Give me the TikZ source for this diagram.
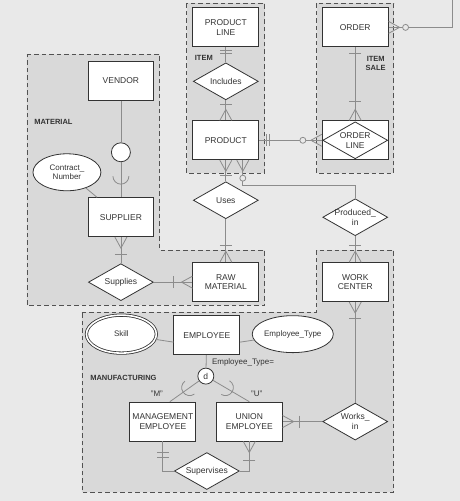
\documentclass[tikz,border=0pt]{standalone}
\usepackage{fontspec}
\setmainfont{Liberation Sans}
\usetikzlibrary{shapes.geometric,calc}
\definecolor{bgc}{HTML}{E9E9E9}
\definecolor{zonec}{HTML}{D9D9D9}
\definecolor{linec}{HTML}{8C8C8C}
\definecolor{inkc}{HTML}{333333}
\tikzset{
 conn/.style={draw=linec, line width=0.8pt},
 zone/.style={draw=inkc!85, fill=zonec, dash pattern=on 4.5pt off 3pt, line width=0.8pt},
 entbox/.style={rectangle, draw=inkc, fill=white, line width=0.8pt, minimum width=66pt, minimum height=39pt, align=center, font=\fontsize{8.5}{9.5}\selectfont, text=inkc, inner sep=1pt},
 reldia/.style={diamond, draw=inkc, fill=white, line width=0.8pt, minimum width=65pt, minimum height=37pt, inner sep=0pt},
 reltxt/.style={align=center, font=\fontsize{8.5}{9.5}\selectfont, text=inkc, inner sep=0pt},
 attr/.style={ellipse, draw=inkc, fill=white, line width=0.8pt, minimum width=68pt, minimum height=37pt, inner sep=0pt, align=center, font=\fontsize{8}{9}\selectfont, text=inkc},
 subcirc/.style={circle, draw=inkc, fill=white, line width=0.8pt, inner sep=0pt, font=\fontsize{8.5}{9.5}\selectfont, text=inkc},
 zonelbl/.style={font=\bfseries\fontsize{7.5}{9}\selectfont, text=inkc, align=center, inner sep=0pt},
 smalltxt/.style={font=\fontsize{8}{9}\selectfont, text=inkc, inner sep=0pt},
}
\newcommand{\entity}[3]{%
 \node[entbox] (#1) at (#2) {#3};%
}
\newcommand{\relship}[3]{%
 \node[reldia] (#1) at (#2) {};%
 \node[reltxt] (#1t) at (#1) {#3};%
}
% line ends: crow's foot, bar, ring, subset cup
\newcommand{\crowft}[2]{\draw[conn,shift={(#1)},rotate=#2] (0,6) -- (11,0) -- (0,-6);}
\newcommand{\tickmk}[3]{\draw[conn,shift={(#1)},rotate=#2] (#3,-6) -- (#3,6);}
\newcommand{\ringmk}[3]{\draw[conn,fill=bgc,shift={(#1)},rotate=#2] (#3,0) circle (3);}
\newcommand{\cupmk}[2]{\draw[conn,shift={(#1)},rotate=#2] (0,8) arc (90:270:8);}
\begin{document}
\begin{tikzpicture}[x=1pt,y=-1pt]
   \fill[bgc] (0,0) rectangle (460,501);
   \draw[zone] (27,54) -- (160,54) -- (160,250) -- (265,250) -- (265,305) -- (27,305) -- cycle;
   \draw[zone] (187,3) rectangle (265,173);
   \draw[zone] (317,3) rectangle (394,173);
   \draw[zone] (82,312) -- (317,312) -- (317,250) -- (394,250) -- (394,492) -- (82,492) -- cycle;
   \node[zonelbl] (matlbl) at (53.5,122) {MATERIAL};
   \node[zonelbl] (itemlbl) at (204,58) {ITEM};
   \node[zonelbl] (salelbl) at (376,63) {ITEM\\SALE};
   \node[zonelbl] (manlbl) at (123.5,378) {MANUFACTURING};

   \entity{pline}{226,27}{PRODUCT\\LINE}
   \relship{includes}{226,81}{Includes}
   \entity{product}{226,140}{PRODUCT}
   \entity{order}{355.5,27}{ORDER}
   \entity{ordline}{355.5,140}{}
   \node[reldia] (ordlinedia) at (ordline) {};
   \node[reltxt] (ordlinet) at (ordline) {ORDER\\LINE};
   \entity{vendor}{121,80.5}{VENDOR}
   \node[subcirc, minimum size=19pt] (subc) at (121,152) {};
   \node[attr] (contract) at (67,172) {Contract\_\\Number};
   \entity{supplier}{121,217}{SUPPLIER}
   \relship{supplies}{121,282}{Supplies}
   \relship{uses}{226,200}{Uses}
   \entity{rawmat}{226,282}{RAW\\MATERIAL}
   \relship{prodin}{355.5,217}{Produced\_\\in}
   \entity{wcenter}{355.5,282}{WORK\\CENTER}
   \entity{employee}{207,335}{EMPLOYEE}
   \node[attr, double, double distance=1.6pt, minimum width=70pt, minimum height=38pt] (skill) at (121.5,334) {Skill};
   \node[attr] (emptype) at (293,334) {Employee\_Type};
   \node[subcirc, minimum size=16pt] (dcirc) at (206,376) {d};
   \node[smalltxt, anchor=west] (typelbl) at (212,362) {Employee\_Type=};
   \node[smalltxt] (mlbl) at (157,394) {"M"};
   \node[smalltxt] (ulbl) at (257,394) {"U"};
   \entity{mgmt}{163,421.5}{MANAGEMENT\\EMPLOYEE}
   \entity{union}{249.5,421.5}{UNION\\EMPLOYEE}
   \relship{superv}{207,471}{Supervises}
   \relship{worksin}{355.5,421.5}{Works\_\\in}

   \draw[conn] (pline) -- (includes);
   \tickmk{pline.south}{270}{3} \tickmk{pline.south}{270}{6}
   \draw[conn] (includes) -- (product);
   \tickmk{includes.south}{270}{4} \crowft{product.north}{90}
   \draw[conn] (product) -- (ordline);
   \tickmk{product.east}{0}{7} \tickmk{product.east}{0}{10}
   \crowft{ordline.west}{180} \ringmk{ordline.west}{180}{19}
   \draw[conn] (order) -- (ordline);
   \tickmk{order.south}{270}{6} \tickmk{ordline.north}{90}{19} \crowft{ordline.north}{90}
   \coordinate (ordout) at (453,0);
   \draw[conn] (order.east) -| (ordout);
   \crowft{order.east}{0} \ringmk{order.east}{0}{17}

   \draw[conn] (vendor) -- (subc);
   \draw[conn] (subc) -- (supplier);
   \coordinate (vcup) at ($(subc)!0.53!(supplier.north)$);
   \cupmk{vcup}{90}
   \draw[conn] (contract) -- (supplier);
   \draw[conn] (supplier) -- (supplies);
   \crowft{supplier.south}{270} \tickmk{supplies.north}{90}{9}
   \draw[conn] (supplies) -- (rawmat);
   \tickmk{rawmat.west}{180}{19} \crowft{rawmat.west}{180}
   \draw[conn] (product) -- (uses);
   \crowft{product.south}{270} \tickmk{uses.north}{90}{6}
   \draw[conn] (uses) -- (rawmat);
   \tickmk{rawmat.north}{90}{17} \crowft{rawmat.north}{90}
   \coordinate (pfoot) at ([xshift=17pt]product.south);
   \draw[conn] (pfoot) -- ++(0,25) -| (prodin.north);
   \crowft{pfoot}{270} \ringmk{pfoot}{270}{18}
   \draw[conn] (prodin) -- (wcenter);
   \tickmk{wcenter.north}{90}{17} \crowft{wcenter.north}{90}
   \draw[conn] (wcenter) -- (worksin);
   \crowft{wcenter.south}{270} \tickmk{wcenter.south}{270}{16}
   \draw[conn] (worksin) -- (union);
   \tickmk{union.east}{0}{17} \crowft{union.east}{0}

   \draw[conn] (skill) -- ([yshift=-7pt]employee.west);
   \draw[conn] ([yshift=-7pt]employee.east) -- (emptype);
   \draw[conn] (employee) -- (dcirc);
   \coordinate (mtop) at ([xshift=7pt]mgmt.north);
   \draw[conn] (dcirc) -- (mtop);
   \draw[conn] (dcirc) -- (union.north);
   \coordinate (mcup) at ($(dcirc)!0.45!(mtop)$);
   \coordinate (ucup) at ($(dcirc)!0.45!(union.north)$);
   \cupmk{mcup}{36} \cupmk{ucup}{149}
   \draw[conn] (mgmt.south) |- (superv.west);
   \tickmk{mgmt.south}{270}{11} \tickmk{mgmt.south}{270}{16}
   \draw[conn] (union.south) |- (superv.east);
   \crowft{union.south}{270} \tickmk{union.south}{270}{19}
  \end{tikzpicture}
\end{document}
